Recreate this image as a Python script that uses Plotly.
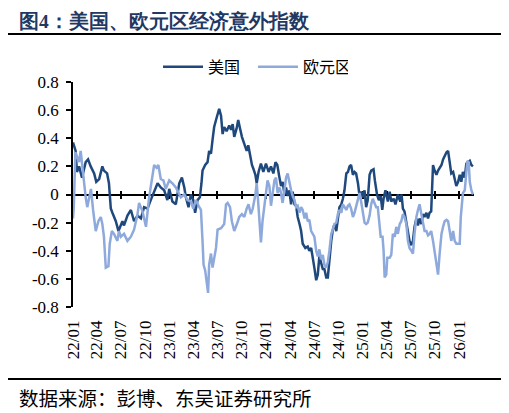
import plotly.graph_objects as go

# US economic surprise index
us_dates = [
    '2022-01-01', '2022-01-11', '2022-01-16', '2022-01-24', '2022-02-04', '2022-02-18', '2022-02-27',
    '2022-03-09', '2022-03-22', '2022-03-30', '2022-04-10', '2022-04-22', '2022-04-28', '2022-05-10',
    '2022-05-17', '2022-05-24', '2022-05-30', '2022-06-12', '2022-06-22', '2022-07-01', '2022-07-07',
    '2022-07-13', '2022-07-26', '2022-08-08', '2022-08-20', '2022-09-02', '2022-09-15', '2022-09-27',
    '2022-10-10', '2022-10-22', '2022-11-04', '2022-11-17', '2022-11-29', '2022-12-12', '2022-12-24',
    '2022-12-31', '2023-01-12', '2023-01-25', '2023-02-07', '2023-02-17', '2023-02-26', '2023-03-04',
    '2023-03-14', '2023-03-23', '2023-04-01', '2023-04-08', '2023-04-17', '2023-04-26', '2023-05-02',
    '2023-05-06', '2023-05-16', '2023-05-25', '2023-05-31', '2023-06-07', '2023-06-13', '2023-06-19',
    '2023-06-26', '2023-07-02', '2023-07-08', '2023-07-15', '2023-07-21', '2023-07-27', '2023-08-05',
    '2023-08-15', '2023-08-22', '2023-08-28', '2023-09-03', '2023-09-12', '2023-09-18', '2023-09-26',
    '2023-10-02', '2023-10-11', '2023-10-20', '2023-10-26', '2023-11-03', '2023-11-09', '2023-11-15',
    '2023-11-22', '2023-11-27', '2023-12-04', '2023-12-13', '2023-12-22', '2024-01-01', '2024-01-11',
    '2024-01-20', '2024-01-29', '2024-02-06', '2024-02-13', '2024-02-21', '2024-02-27', '2024-03-04',
    '2024-03-11', '2024-03-17', '2024-03-23', '2024-03-30', '2024-04-05', '2024-04-11', '2024-04-18',
    '2024-04-24', '2024-04-30', '2024-05-07', '2024-05-13', '2024-05-19', '2024-05-29', '2024-06-07',
    '2024-06-13', '2024-06-20', '2024-06-26', '2024-07-02', '2024-07-09', '2024-07-15', '2024-07-21',
    '2024-07-27', '2024-08-03', '2024-08-09', '2024-08-16', '2024-08-22', '2024-08-28', '2024-09-04',
    '2024-09-10', '2024-09-16', '2024-09-23', '2024-09-29', '2024-10-05', '2024-10-12', '2024-10-18',
    '2024-10-24', '2024-10-31', '2024-11-06', '2024-11-12', '2024-11-18', '2024-11-25', '2024-12-01',
    '2024-12-07', '2024-12-14', '2024-12-20', '2024-12-26', '2025-01-01', '2025-01-08', '2025-01-14',
    '2025-01-20', '2025-01-27', '2025-02-02', '2025-02-11', '2025-02-16', '2025-02-24', '2025-03-03',
    '2025-03-10', '2025-03-16', '2025-03-21', '2025-03-28', '2025-04-06', '2025-04-13', '2025-04-19',
    '2025-04-28', '2025-05-05', '2025-05-14', '2025-05-23', '2025-05-28', '2025-06-02', '2025-06-08',
    '2025-06-15', '2025-06-21', '2025-06-27', '2025-07-04', '2025-07-10', '2025-07-16', '2025-07-23',
    '2025-07-29', '2025-08-04', '2025-08-11', '2025-08-17', '2025-08-23', '2025-08-30', '2025-09-05',
    '2025-09-11', '2025-09-17', '2025-09-24', '2025-09-30', '2025-10-07', '2025-10-13', '2025-10-19',
    '2025-10-26', '2025-11-01', '2025-11-07', '2025-11-14', '2025-11-20', '2025-11-26', '2025-12-02',
    '2025-12-09', '2025-12-15', '2025-12-21', '2025-12-28', '2026-01-03', '2026-01-09', '2026-01-15',
    '2026-01-22', '2026-01-28', '2026-02-03', '2026-02-10', '2026-02-16', '2026-02-22',
]
us_values = [
    0.37, 0.31, 0.16, 0.20, 0.12, 0.23, 0.25,
    0.20, 0.15, 0.09, 0.11, 0.20, 0.17, 0.15,
    0.08, -0.10, -0.13, -0.19, -0.26, -0.22, -0.19,
    -0.22, -0.15, -0.11, -0.19, -0.15, -0.17, -0.09,
    -0.10, -0.04, 0.02, 0.08, 0.05, 0.03, -0.04,
    0.04, -0.05, -0.07, 0.08, 0.12, 0.05, -0.02,
    -0.09, 0.00, -0.04, -0.13, -0.04, -0.02, 0.08,
    0.17, 0.21, 0.23, 0.31, 0.29, 0.39, 0.48,
    0.53, 0.58, 0.61, 0.56, 0.43, 0.48, 0.45,
    0.49, 0.46, 0.50, 0.41, 0.47, 0.53, 0.46,
    0.41, 0.36, 0.31, 0.35, 0.27, 0.21, 0.18,
    0.14, 0.08, 0.16, 0.22, 0.16, 0.22, 0.16,
    0.20, 0.15, 0.23, 0.21, 0.12, 0.06, 0.09,
    0.00, 0.05, -0.01, 0.03, -0.07, 0.02, -0.07,
    -0.08, -0.16, -0.21, -0.26, -0.35, -0.38, -0.37,
    -0.40, -0.38, -0.47, -0.52, -0.61, -0.57, -0.44,
    -0.49, -0.53, -0.53, -0.59, -0.59, -0.45, -0.33,
    -0.25, -0.21, -0.26, -0.16, -0.09, -0.07, -0.03,
    0.03, 0.15, 0.16, 0.20, 0.21, 0.14, 0.16,
    0.15, 0.08, -0.01, 0.02, -0.02, 0.03, -0.09,
    -0.04, 0.14, 0.17, 0.18, 0.10, 0.00, -0.04,
    -0.01, -0.11, -0.03, 0.03, -0.05, 0.02, -0.05,
    -0.03, -0.07, 0.00, -0.05, 0.00, -0.10, -0.12,
    -0.19, -0.26, -0.33, -0.36, -0.33, -0.23, -0.17,
    -0.22, -0.17, -0.21, -0.14, -0.16, -0.13, -0.17,
    -0.13, -0.12, 0.21, 0.17, 0.14, 0.17, 0.19,
    0.21, 0.25, 0.28, 0.30, 0.31, 0.22, 0.15,
    0.16, 0.12, 0.06, 0.09, 0.14, 0.09, 0.16,
    0.12, 0.22, 0.23, 0.24, 0.21, 0.20,
]

# Euro area economic surprise index
ez_dates = [
    '2022-01-01', '2022-01-04', '2022-01-10', '2022-01-24', '2022-01-30', '2022-02-05', '2022-02-12',
    '2022-02-18', '2022-02-24', '2022-03-05', '2022-03-10', '2022-03-18', '2022-03-28', '2022-04-07',
    '2022-04-16', '2022-04-22', '2022-04-28', '2022-05-05', '2022-05-15', '2022-05-20', '2022-05-28',
    '2022-06-05', '2022-06-18', '2022-06-24', '2022-07-01', '2022-07-13', '2022-07-26', '2022-08-08',
    '2022-08-20', '2022-09-02', '2022-09-08', '2022-09-21', '2022-10-04', '2022-10-16', '2022-10-26',
    '2022-11-04', '2022-11-13', '2022-11-20', '2022-11-29', '2022-12-09', '2022-12-18', '2022-12-31',
    '2023-01-12', '2023-01-25', '2023-02-13', '2023-02-26', '2023-03-10', '2023-03-23', '2023-04-01',
    '2023-04-11', '2023-04-21', '2023-04-30', '2023-05-06', '2023-05-10', '2023-05-16', '2023-05-21',
    '2023-05-27', '2023-05-31', '2023-06-07', '2023-06-13', '2023-06-19', '2023-06-26', '2023-07-02',
    '2023-07-15', '2023-07-27', '2023-08-03', '2023-08-09', '2023-08-18', '2023-08-25', '2023-09-03',
    '2023-09-13', '2023-09-22', '2023-10-02', '2023-10-11', '2023-10-20', '2023-10-27', '2023-11-05',
    '2023-11-12', '2023-11-22', '2023-11-27', '2023-12-02', '2023-12-07', '2023-12-13', '2023-12-19',
    '2023-12-26', '2024-01-01', '2024-01-07', '2024-01-14', '2024-01-20', '2024-02-02', '2024-02-08',
    '2024-02-14', '2024-02-21', '2024-02-27', '2024-03-04', '2024-03-11', '2024-03-17', '2024-03-23',
    '2024-03-30', '2024-04-05', '2024-04-11', '2024-04-18', '2024-04-24', '2024-04-30', '2024-05-07',
    '2024-05-13', '2024-05-19', '2024-05-26', '2024-06-01', '2024-06-07', '2024-06-13', '2024-06-20',
    '2024-06-26', '2024-07-02', '2024-07-09', '2024-07-15', '2024-07-21', '2024-07-27', '2024-08-03',
    '2024-08-09', '2024-08-16', '2024-08-22', '2024-08-28', '2024-09-04', '2024-09-10', '2024-09-16',
    '2024-09-23', '2024-09-29', '2024-10-05', '2024-10-12', '2024-10-18', '2024-10-24', '2024-10-31',
    '2024-11-06', '2024-11-12', '2024-11-18', '2024-11-25', '2024-12-01', '2024-12-07', '2024-12-14',
    '2024-12-20', '2024-12-26', '2025-01-01', '2025-01-08', '2025-01-14', '2025-01-20', '2025-01-27',
    '2025-02-02', '2025-02-08', '2025-02-15', '2025-02-21', '2025-02-27', '2025-03-06', '2025-03-10',
    '2025-03-17', '2025-03-21', '2025-03-25', '2025-03-31', '2025-04-04', '2025-04-13', '2025-04-19',
    '2025-04-25', '2025-05-02', '2025-05-08', '2025-05-14', '2025-05-21', '2025-05-27', '2025-06-02',
    '2025-06-08', '2025-06-15', '2025-06-21', '2025-06-27', '2025-07-04', '2025-07-10', '2025-07-16',
    '2025-07-23', '2025-07-29', '2025-08-04', '2025-08-11', '2025-08-17', '2025-08-23', '2025-08-30',
    '2025-09-05', '2025-09-11', '2025-09-17', '2025-09-24', '2025-09-30', '2025-10-07', '2025-10-13',
    '2025-10-19', '2025-10-26', '2025-11-01', '2025-11-07', '2025-11-14', '2025-11-20', '2025-11-26',
    '2025-12-02', '2025-12-09', '2025-12-15', '2025-12-21', '2025-12-28', '2026-01-03', '2026-01-07',
    '2026-01-11', '2026-01-15', '2026-01-22', '2026-01-28', '2026-02-01', '2026-02-06', '2026-02-10',
    '2026-02-16', '2026-02-22',
]
ez_values = [
    -0.17, -0.09, 0.30, 0.23, 0.31, 0.20, 0.09,
    -0.02, -0.09, 0.00, 0.04, -0.11, -0.26, -0.19,
    -0.16, -0.21, -0.30, -0.52, -0.51, -0.35, -0.26,
    -0.28, -0.33, -0.26, -0.30, -0.28, -0.33, -0.30,
    -0.25, -0.14, -0.06, -0.12, -0.23, -0.02, 0.10,
    0.21, 0.19, 0.21, 0.11, 0.10, 0.04, 0.10,
    0.08, 0.05, -0.02, 0.00, -0.04, -0.05, -0.10,
    -0.04, -0.08, -0.11, -0.33, -0.50, -0.54, -0.61,
    -0.70, -0.50, -0.42, -0.52, -0.44, -0.38, -0.25,
    -0.24, -0.21, -0.07, -0.06, -0.09, -0.19, -0.26,
    -0.21, -0.16, -0.14, -0.16, -0.10, -0.07, -0.14,
    -0.10, 0.00, 0.08, -0.04, -0.21, -0.34, -0.19,
    -0.09, 0.03, 0.10, 0.06, -0.08, 0.10, 0.12,
    0.01, 0.05, 0.01, -0.06, 0.03, 0.12, 0.15,
    0.08, 0.03, -0.01, -0.04, -0.09, -0.08, -0.13,
    -0.09, -0.11, -0.17, -0.13, -0.19, -0.18, -0.26,
    -0.28, -0.30, -0.40, -0.44, -0.39, -0.46, -0.43,
    -0.50, -0.52, -0.48, -0.40, -0.28, -0.25, -0.21,
    -0.20, -0.14, -0.11, -0.13, -0.07, -0.09, -0.11,
    -0.08, -0.07, -0.10, -0.16, -0.13, -0.09, -0.04,
    0.01, -0.05, -0.11, -0.20, -0.21, -0.20, -0.15,
    -0.07, -0.03, -0.07, -0.09, -0.09, -0.21, -0.30,
    -0.30, -0.40, -0.59, -0.57, -0.45, -0.45, -0.43,
    -0.28, -0.30, -0.23, -0.28, -0.21, -0.19, -0.14,
    -0.16, -0.21, -0.33, -0.38, -0.40, -0.42, -0.28,
    -0.16, -0.11, -0.07, -0.14, -0.21, -0.26, -0.26,
    -0.29, -0.28, -0.26, -0.33, -0.40, -0.50, -0.57,
    -0.42, -0.28, -0.23, -0.19, -0.18, -0.19, -0.26,
    -0.33, -0.26, -0.33, -0.35, -0.35, -0.35, -0.16,
    -0.03, 0.01, 0.03, 0.16, 0.24, 0.23, 0.09,
    0.03, 0.00,
]

y_tick_vals = [-0.8, -0.6, -0.4, -0.2, 0, 0.2, 0.4, 0.6, 0.8]
y_tick_text = ['-0.8', '-0.6', '-0.4', '-0.2', '0', '0.2', '0.4', '0.6', '0.8']

x_range = ['2022-01-01', '2026-02-26']
serif = 'Liberation Serif, Times New Roman, Tinos, serif'
cjk = 'Noto Sans CJK SC'

fig = go.Figure()
fig.add_trace(go.Scatter(x=us_dates, y=us_values, name='美国', mode='lines',
                         line=dict(color='#1F497D', width=2.5)))
fig.add_trace(go.Scatter(x=ez_dates, y=ez_values, name='欧元区', mode='lines',
                         line=dict(color='#8EA9DB', width=2.5), xaxis='x2'))
# invisible copy so the third (tick-only) axis gets drawn
fig.add_trace(go.Scatter(x=ez_dates, y=ez_values, mode='lines', opacity=0, showlegend=False,
                         hoverinfo='skip', line=dict(width=0), xaxis='x3'))

date_axis = dict(type='date', range=x_range, tick0='2022-01-01', dtick='M3',
                 showgrid=False, zeroline=False)
# the page puts the figure 8px in from the top-left, so the canvas is 8px smaller there
fig.update_layout(
    width=501, height=405,
    margin=dict(l=65, r=35, t=74, b=106),
    paper_bgcolor='white', plot_bgcolor='white',
    showlegend=True,
    legend=dict(orientation='h', x=0.212, xanchor='left', y=1.067, yanchor='middle',
                font=dict(family=cjk, size=16, color='black'), itemwidth=40, entrywidth=40,
                bgcolor='rgba(0,0,0,0)'),
    # bottom axis: only the labels
    xaxis=dict(date_axis, showline=False, ticks='', tickformat='%y/%m', tickangle=-90,
               ticklabelstandoff=9, tickfont=dict(family=serif, size=17, color='black')),
    # axis through zero, ticks crossing the line
    xaxis2=dict(date_axis, overlaying='x', anchor='free', position=0.5, showline=True,
                linecolor='black', linewidth=1.5, ticks='outside', ticklen=4, tickwidth=1.5,
                tickcolor='black', showticklabels=False, layer='below traces'),
    xaxis3=dict(date_axis, overlaying='x', anchor='free', position=0.5, showline=False,
                ticks='inside', ticklen=4, tickwidth=1.5, tickcolor='black',
                showticklabels=False, layer='below traces'),
    yaxis=dict(range=[-0.8, 0.8], tickvals=y_tick_vals, ticktext=y_tick_text,
               showgrid=False, zeroline=False, showline=True, linecolor='black', linewidth=1.5,
               ticks='outside', ticklen=5, tickwidth=1.5, tickcolor='black', ticklabelstandoff=4,
               tickfont=dict(family=serif, size=17, color='black')),
)

fig.add_annotation(text='<b>图4：美国、欧元区经济意外指数</b>', xref='paper', yref='paper',
                   x=-0.14, y=1.328, xanchor='left', yanchor='top', showarrow=False,
                   font=dict(family=serif, size=19.5, color='#1F3864'))
fig.add_annotation(text='数据来源：彭博、东吴证券研究所', xref='paper', yref='paper',
                   x=-0.14, y=-0.404, xanchor='left', yanchor='middle', showarrow=False,
                   font=dict(family=cjk, size=19.5, color='black'))
for y in (1.2133, -0.32):
    fig.add_shape(type='line', xref='paper', yref='paper', x0=-0.1696, x1=1.0723, y0=y, y1=y,
                  line=dict(color='black', width=2))

fig.write_html('out.html')
